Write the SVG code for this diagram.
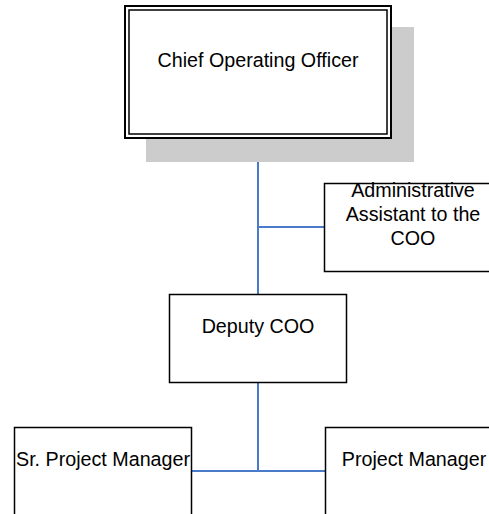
<svg xmlns="http://www.w3.org/2000/svg" width="489" height="514" viewBox="0 0 489 514">
<style>
.box{fill:#fff;stroke:#000;stroke-width:1.5}
.t{font-family:"Liberation Sans",Arial,sans-serif;font-size:19.7px;fill:#000;text-anchor:middle}
.c{stroke:#4a7bc8;stroke-width:2;fill:none}
</style>
<rect x="0" y="0" width="489" height="514" fill="#fff"/>
<g id="connectors">
<path class="c" d="M258 139V294M258 227H324M258 382V471M192 471H325"/>
</g>
<g id="coo">
<rect x="146" y="27" width="268" height="135" fill="#cccccc"/>
<rect x="125" y="6" width="266" height="132" fill="#fff" stroke="#000" stroke-width="2"/>
<rect x="129" y="10" width="258" height="124" fill="none" stroke="#000" stroke-width="1.5"/>
<text class="t" x="258" y="67">Chief Operating Officer</text>
</g>
<g id="admin">
<rect class="box" x="324.5" y="183.5" width="178" height="88"/>
<text class="t" x="413" y="197">Administrative</text>
<text class="t" x="413" y="221">Assistant to the</text>
<text class="t" x="413" y="245">COO</text>
</g>
<g id="deputy">
<rect class="box" x="169.5" y="294.5" width="177" height="88"/>
<text class="t" x="258" y="333">Deputy COO</text>
</g>
<g id="srpm">
<rect class="box" x="14.5" y="427.5" width="177" height="90"/>
<text class="t" x="103" y="466">Sr. Project Manager</text>
</g>
<g id="pm">
<rect class="box" x="325.5" y="427.5" width="178" height="90"/>
<text class="t" x="414" y="466">Project Manager</text>
</g>
</svg>
